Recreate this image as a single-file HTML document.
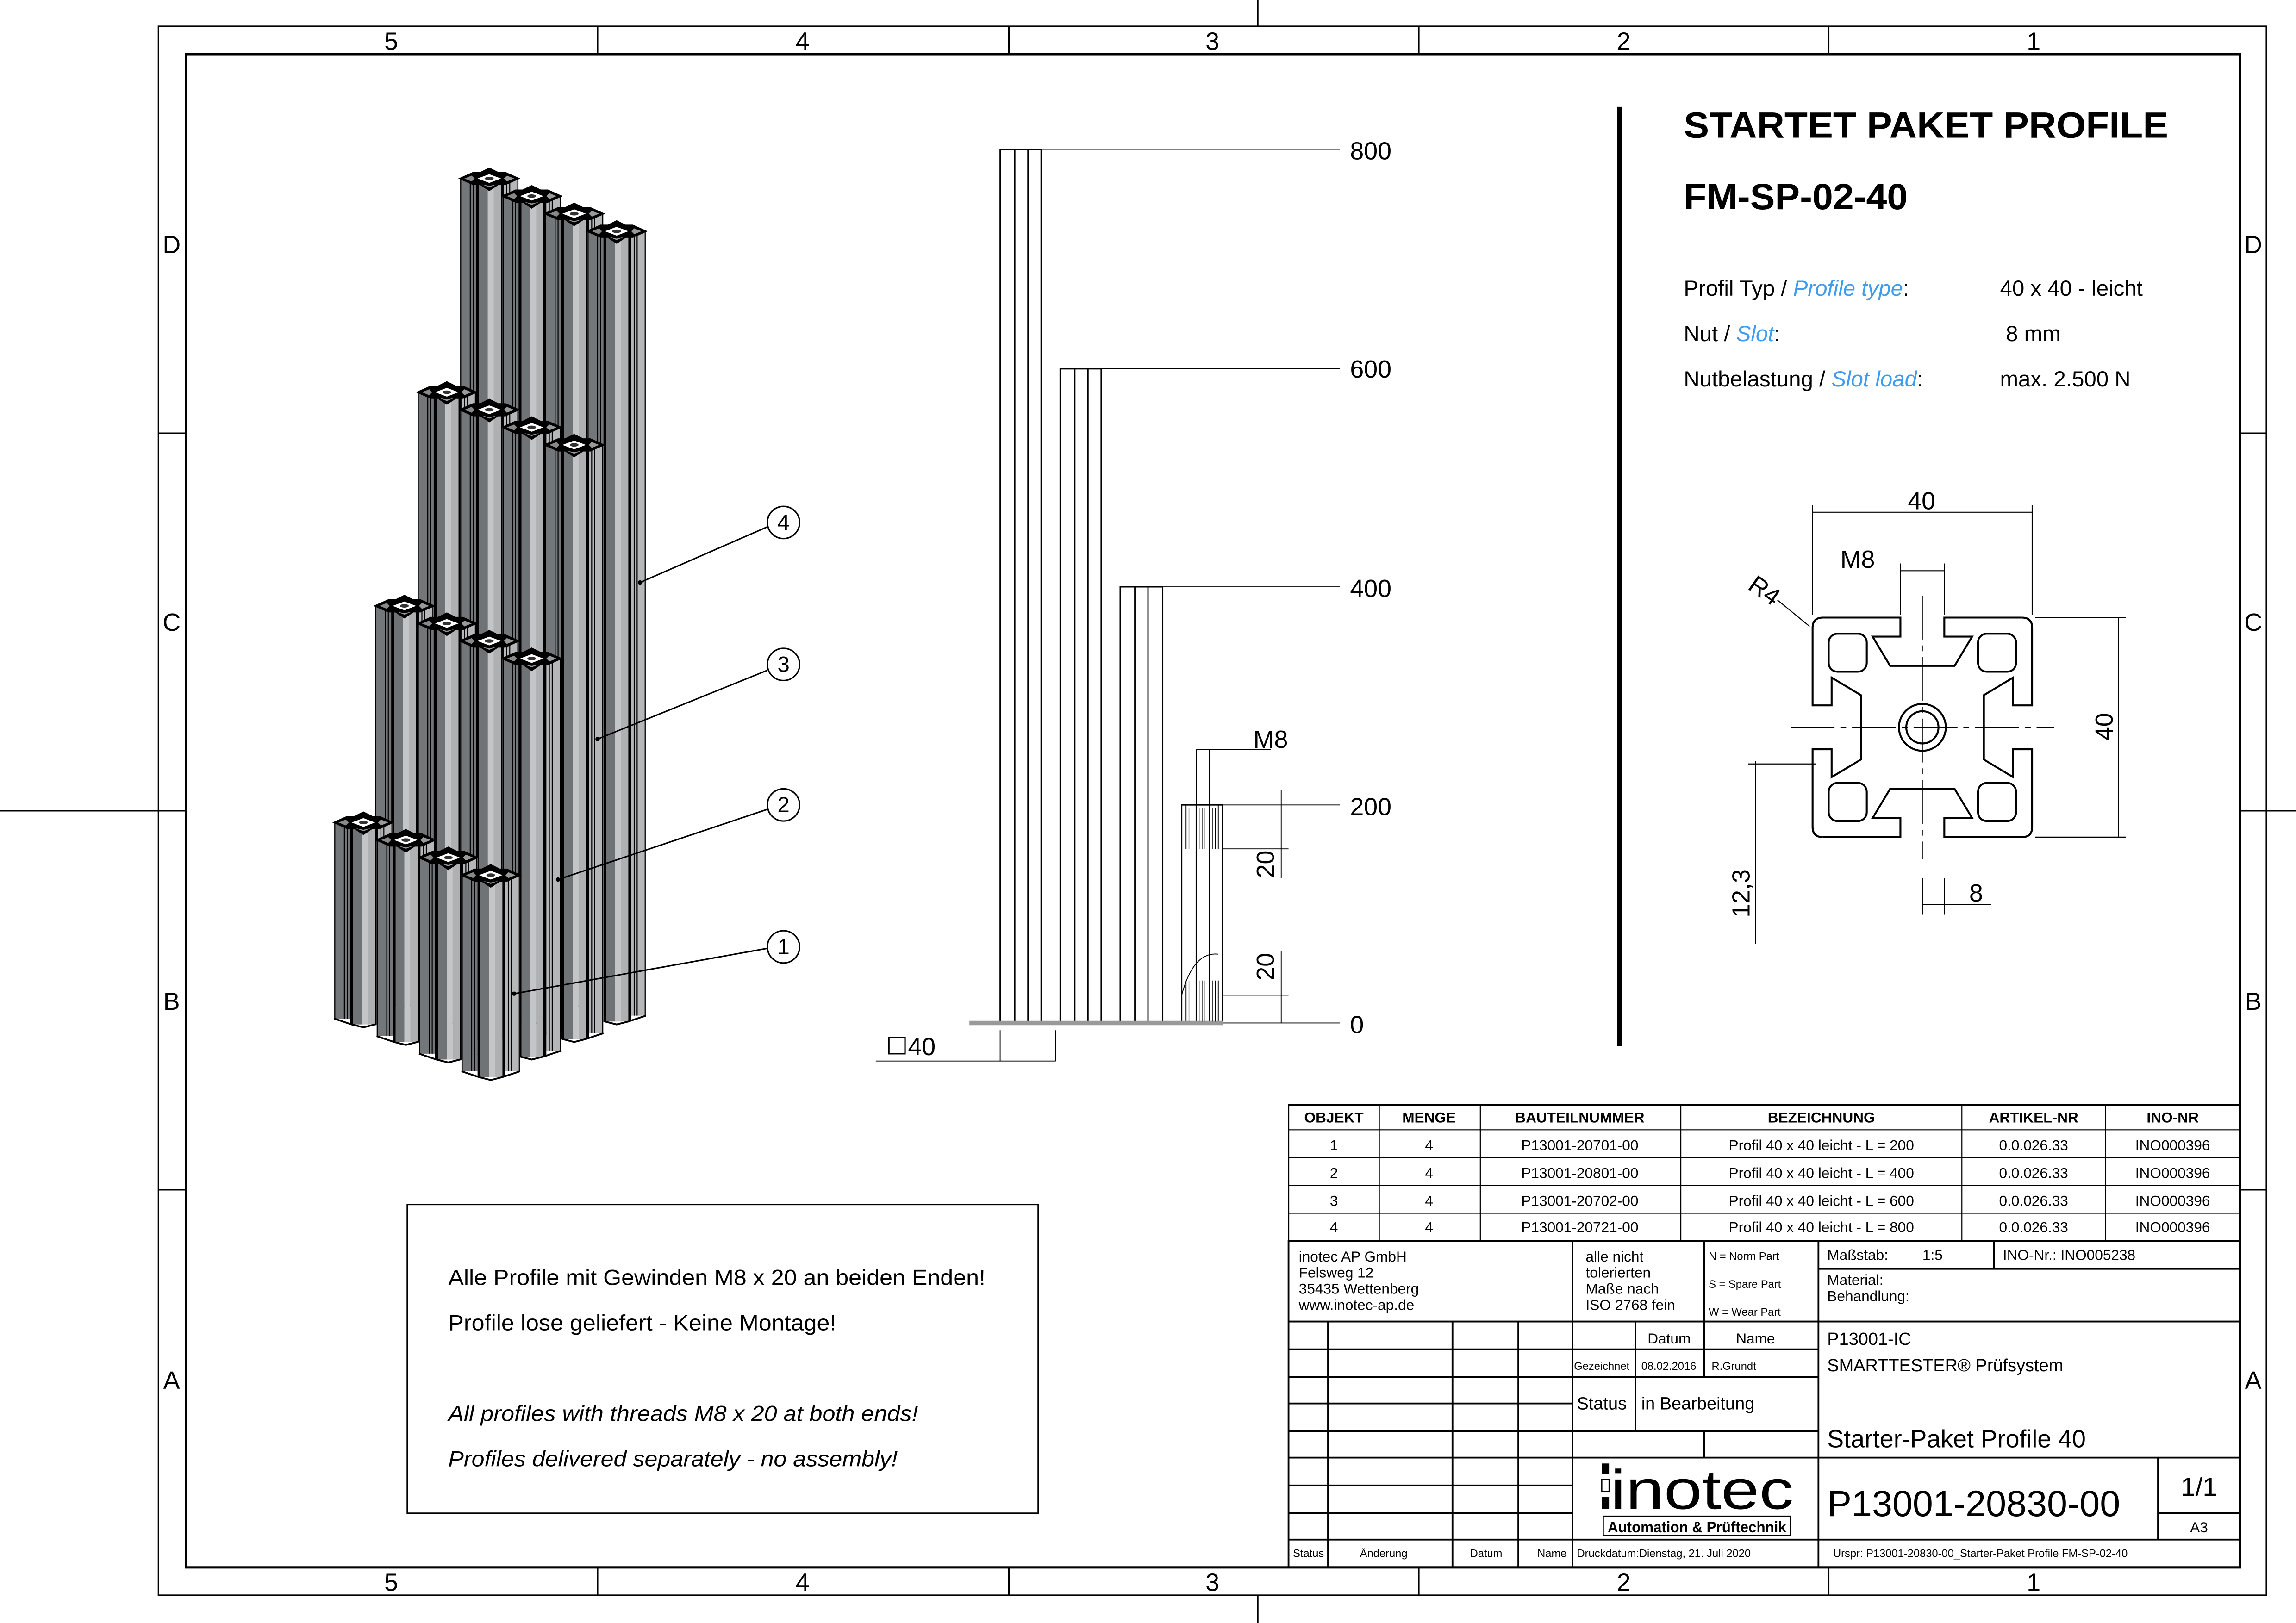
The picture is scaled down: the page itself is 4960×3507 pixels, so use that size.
<!DOCTYPE html>
<html><head><meta charset="utf-8"><style>
html,body{margin:0;padding:0;background:#fff}
svg{display:block}
text{font-family:"Liberation Sans",sans-serif;fill:#000}
</style></head><body>
<svg width="4960" height="3507" viewBox="0 0 1568 1109" xmlns="http://www.w3.org/2000/svg">
<defs>
<g id="top">
<polygon points="0,6 9,2 14,2 20,-1 26,2 31,2 40,6 31,10 26,10 20,14 14,10 9,10" fill="#000" stroke="#000" stroke-width="1"/>
<polygon points="12,6 20,3 28,6 20,9" fill="#fff"/>
<ellipse cx="20" cy="6" rx="3" ry="1.2" fill="#333"/>
<polygon points="3,6 8,4 10,6 8,8" fill="#888"/><polygon points="30,6 32,4 37,6 32,8" fill="#999"/>
<polygon points="15,10 20,12 25,10 20,11" fill="#999"/>
</g>
<symbol id="c1" overflow="visible">
<rect x="0" y="6" width="11" height="134" fill="#74777a"/><rect x="30" y="6" width="10" height="134" fill="#b5b7b9"/>
<rect x="13" y="10" width="6" height="134" fill="#707376"/><rect x="19" y="10" width="4" height="134" fill="#c3c5c7"/><rect x="23" y="10" width="5" height="134" fill="#aeb0b2"/>
<path d="M12,8V144M29,8V144" stroke="#000" stroke-width="2"/><path d="M0.5,6V140M39.5,6V140M7,6V140M9,6V140M32,6V140M34,6V140" stroke="#000" stroke-width="0.7"/>
<path d="M0,140L12,144L20,146L28,144L40,140" fill="none" stroke="#000" stroke-width="1.2"/><use href="#top"/></symbol>
<symbol id="c2" overflow="visible">
<rect x="0" y="6" width="11" height="268" fill="#74777a"/><rect x="30" y="6" width="10" height="268" fill="#b5b7b9"/>
<rect x="13" y="10" width="6" height="268" fill="#707376"/><rect x="19" y="10" width="4" height="268" fill="#c3c5c7"/><rect x="23" y="10" width="5" height="268" fill="#aeb0b2"/>
<path d="M12,8V278M29,8V278" stroke="#000" stroke-width="2"/><path d="M0.5,6V274M39.5,6V274M7,6V274M9,6V274M32,6V274M34,6V274" stroke="#000" stroke-width="0.7"/>
<path d="M0,274L12,278L20,280L28,278L40,274" fill="none" stroke="#000" stroke-width="1.2"/><use href="#top"/></symbol>
<symbol id="c3" overflow="visible">
<rect x="0" y="6" width="11" height="402" fill="#74777a"/><rect x="30" y="6" width="10" height="402" fill="#b5b7b9"/>
<rect x="13" y="10" width="6" height="402" fill="#707376"/><rect x="19" y="10" width="4" height="402" fill="#c3c5c7"/><rect x="23" y="10" width="5" height="402" fill="#aeb0b2"/>
<path d="M12,8V412M29,8V412" stroke="#000" stroke-width="2"/><path d="M0.5,6V408M39.5,6V408M7,6V408M9,6V408M32,6V408M34,6V408" stroke="#000" stroke-width="0.7"/>
<path d="M0,408L12,412L20,414L28,412L40,408" fill="none" stroke="#000" stroke-width="1.2"/><use href="#top"/></symbol>
<symbol id="c4" overflow="visible">
<rect x="0" y="6" width="11" height="536" fill="#74777a"/><rect x="30" y="6" width="10" height="536" fill="#b5b7b9"/>
<rect x="13" y="10" width="6" height="536" fill="#707376"/><rect x="19" y="10" width="4" height="536" fill="#c3c5c7"/><rect x="23" y="10" width="5" height="536" fill="#aeb0b2"/>
<path d="M12,8V546M29,8V546" stroke="#000" stroke-width="2"/><path d="M0.5,6V542M39.5,6V542M7,6V542M9,6V542M32,6V542M34,6V542" stroke="#000" stroke-width="0.7"/>
<path d="M0,542L12,546L20,548L28,546L40,542" fill="none" stroke="#000" stroke-width="1.2"/><use href="#top"/></symbol>
<path id="side" d="M-75,-68 Q-75,-75 -68,-75 L-15,-75 L-15,-62 L-34,-62 L-22,-42 L22,-42 L34,-62 L15,-62 L15,-75 L68,-75" fill="none" stroke="#000" stroke-width="1.3"/>
</defs>

<!-- frame -->
<g fill="none" stroke="#000" stroke-width="1">
<rect x="108" y="18" width="1440" height="1072"/>
<rect x="127" y="37" width="1403" height="1034" stroke-width="1.6"/>
<path d="M408,18V37M689,18V37M969,18V37M1249,18V37M408,1071V1090M689,1071V1090M969,1071V1090M1249,1071V1090M108,296H127M108,554H127M108,813H127M1530,296H1548M1530,554H1548M1530,813H1548M859,0V18M859,1090V1109M0,554H108M1548,554H1568"/>
</g>
<g font-size="17" text-anchor="middle">
<text x="267" y="34">5</text><text x="548" y="34">4</text><text x="828" y="34">3</text><text x="1109" y="34">2</text><text x="1389" y="34">1</text>
<text x="267" y="1087">5</text><text x="548" y="1087">4</text><text x="828" y="1087">3</text><text x="1109" y="1087">2</text><text x="1389" y="1087">1</text>
<text x="117" y="173">D</text><text x="117" y="431">C</text><text x="117" y="690">B</text><text x="117" y="949">A</text>
<text x="1539" y="173">D</text><text x="1539" y="431">C</text><text x="1539" y="690">B</text><text x="1539" y="949">A</text>
</g>

<!-- iso columns -->
<use href="#c4" x="314" y="116"/><use href="#c4" x="343" y="128"/><use href="#c4" x="372" y="140"/><use href="#c4" x="401" y="152"/>
<use href="#c3" x="285" y="262"/><use href="#c3" x="314" y="274"/><use href="#c3" x="343" y="286"/><use href="#c3" x="372" y="298"/>
<use href="#c2" x="256" y="408"/><use href="#c2" x="285" y="420"/><use href="#c2" x="314" y="432"/><use href="#c2" x="343" y="444"/>
<use href="#c1" x="228" y="556"/><use href="#c1" x="257" y="568"/><use href="#c1" x="286" y="580"/><use href="#c1" x="315" y="592"/>

<!-- balloons -->
<g fill="#fff" stroke="#000" stroke-width="1">
<line x1="437" y1="398" x2="524" y2="360"/><line x1="408" y1="505" x2="524" y2="458"/><line x1="381" y1="601" x2="524" y2="553"/><line x1="351" y1="679" x2="524" y2="648"/>
<circle cx="535" cy="357" r="11"/><circle cx="535" cy="454" r="11"/><circle cx="535" cy="550" r="11"/><circle cx="535" cy="647" r="11"/>
</g>
<g fill="#000"><circle cx="437" cy="398" r="1.5"/><circle cx="408" cy="505" r="1.5"/><circle cx="381" cy="601" r="1.5"/><circle cx="351" cy="679" r="1.5"/></g>
<g font-size="15" text-anchor="middle"><text x="535" y="362">4</text><text x="535" y="459">3</text><text x="535" y="555">2</text><text x="535" y="652">1</text></g>

<!-- side view -->
<g fill="none" stroke="#000" stroke-width="0.9">
<rect x="683" y="102" width="28" height="597"/><path d="M693,102V699M702,102V699"/>
<rect x="724" y="252" width="28" height="447"/><path d="M734,252V699M743,252V699"/>
<rect x="765" y="401" width="29" height="298"/><path d="M775,401V699M784,401V699"/>
<rect x="807" y="550" width="28" height="149"/><path d="M817,550V699M826,550V699"/>
<path d="M711,102H915M752,252H915M794,401H915M835,550H915M835,699H915" stroke-width="0.6"/>
<path d="M810,550V580M832,550V580M810,670V699M832,670V699M807,680Q815,650 832,652" stroke-width="0.6"/>
<path d="M817,512V560M826,512V560M817,512H868M875,540V580M875,580V600M875,650V699M835,580H880M835,680H880" stroke-width="0.6"/>
<path d="M683,704V725M721,704V725M598,725H721" stroke-width="0.6"/>
</g>
<line x1="662" y1="699" x2="835" y2="699" stroke="#999" stroke-width="3"/>
<g stroke="#000" stroke-width="0.4">
<path d="M812,552V580M814,552V580M819,552V580M821,552V580M823,552V580M828,552V580M830,552V580M812,670V698M814,670V698M819,670V698M821,670V698M823,670V698M828,670V698M830,670V698"/>
</g>
<g font-size="17"><text x="922" y="109">800</text><text x="922" y="258">600</text><text x="922" y="408">400</text><text x="922" y="557">200</text><text x="922" y="706">0</text>
<text x="856" y="511">M8</text><text x="620" y="721">40</text></g>
<rect x="607" y="709" width="11" height="11" fill="none" stroke="#000" stroke-width="1"/>
<text x="870" y="600" font-size="17" transform="rotate(-90 870 600)" text-anchor="start">20</text>
<text x="870" y="670" font-size="17" transform="rotate(-90 870 670)" text-anchor="start">20</text>

<line x1="1106" y1="73" x2="1106" y2="715" stroke="#000" stroke-width="3"/>

<!-- title text -->
<text x="1150" y="94" font-size="25" font-weight="bold" textLength="331" lengthAdjust="spacingAndGlyphs">STARTET PAKET PROFILE</text>
<text x="1150" y="143" font-size="25" font-weight="bold" textLength="153" lengthAdjust="spacingAndGlyphs">FM-SP-02-40</text>
<g font-size="15">
<text x="1150" y="202">Profil Typ / <tspan fill="#3d9bf0" font-style="italic">Profile type</tspan>:</text>
<text x="1150" y="233">Nut / <tspan fill="#3d9bf0" font-style="italic">Slot</tspan>:</text>
<text x="1150" y="264">Nutbelastung / <tspan fill="#3d9bf0" font-style="italic">Slot load</tspan>:</text>
<text x="1366" y="202">40 x 40 - leicht</text><text x="1370" y="233">8 mm</text><text x="1366" y="264">max. 2.500 N</text>
</g>

<!-- cross section -->
<g transform="translate(1313,497)">
<use href="#side"/><use href="#side" transform="rotate(90)"/><use href="#side" transform="rotate(180)"/><use href="#side" transform="rotate(270)"/>
<g fill="none" stroke="#000" stroke-width="1.3">
<rect x="38" y="38" width="26" height="26" rx="6"/><rect x="-64" y="38" width="26" height="26" rx="6"/><rect x="38" y="-64" width="26" height="26" rx="6"/><rect x="-64" y="-64" width="26" height="26" rx="6"/>
<circle r="16"/><circle r="11"/>
</g>
<path d="M-90,0H90M0,-90V90" stroke="#000" stroke-width="0.6" stroke-dasharray="30,4,4,4"/>
</g>
<g fill="none" stroke="#000" stroke-width="0.7">
<path d="M1238,345V420M1388,345V420M1238,350H1388M1298,385V420M1328,385V420M1298,390H1328M1390,422H1452M1390,572H1452M1447,422V572M1199,520V645M1194,522H1240M1313,600V625M1328,600V625M1313,618H1360M1214,410L1236,428"/>
</g>
<g font-size="17"><text x="1303" y="348">40</text><text x="1257" y="388">M8</text><text x="1345" y="616">8</text>
<text x="1193" y="402" transform="rotate(35 1193 402)">R4</text>
<text x="1443" y="506" transform="rotate(-90 1443 506)">40</text>
<text x="1195" y="627" transform="rotate(-90 1195 627)">12,3</text></g>

<!-- note box -->
<rect x="278" y="823" width="431" height="211" fill="none" stroke="#000" stroke-width="1"/>
<g font-size="15"><text x="306" y="878" textLength="367" lengthAdjust="spacingAndGlyphs">Alle Profile mit Gewinden M8 x 20 an beiden Enden!</text><text x="306" y="909" textLength="265" lengthAdjust="spacingAndGlyphs">Profile lose geliefert - Keine Montage!</text>
<text x="306" y="971" fill="#3d9bf0" font-style="italic" textLength="321" lengthAdjust="spacingAndGlyphs">All profiles with threads M8 x 20 at both ends!</text><text x="306" y="1002" fill="#3d9bf0" font-style="italic" textLength="307" lengthAdjust="spacingAndGlyphs">Profiles delivered separately - no assembly!</text></g>

<!-- parts table -->
<g fill="none" stroke="#000" stroke-width="1">
<rect x="880" y="755" width="650" height="93"/>
<path d="M880,772H1530M880,791H1530M880,810H1530M880,829H1530M942,755V848M1011,755V848M1148,755V848M1340,755V848M1438,755V848" stroke-width="0.7"/>
</g>
<g font-size="10" text-anchor="middle">
<g font-weight="bold"><text x="911" y="767">OBJEKT</text><text x="976" y="767">MENGE</text><text x="1079" y="767">BAUTEILNUMMER</text><text x="1244" y="767">BEZEICHNUNG</text><text x="1389" y="767">ARTIKEL-NR</text><text x="1484" y="767">INO-NR</text></g>
<text x="911" y="786">1</text><text x="976" y="786">4</text><text x="1079" y="786">P13001-20701-00</text><text x="1244" y="786">Profil 40 x 40 leicht - L = 200</text><text x="1389" y="786">0.0.026.33</text><text x="1484" y="786">INO000396</text>
<text x="911" y="805">2</text><text x="976" y="805">4</text><text x="1079" y="805">P13001-20801-00</text><text x="1244" y="805">Profil 40 x 40 leicht - L = 400</text><text x="1389" y="805">0.0.026.33</text><text x="1484" y="805">INO000396</text>
<text x="911" y="824">3</text><text x="976" y="824">4</text><text x="1079" y="824">P13001-20702-00</text><text x="1244" y="824">Profil 40 x 40 leicht - L = 600</text><text x="1389" y="824">0.0.026.33</text><text x="1484" y="824">INO000396</text>
<text x="911" y="842">4</text><text x="976" y="842">4</text><text x="1079" y="842">P13001-20721-00</text><text x="1244" y="842">Profil 40 x 40 leicht - L = 800</text><text x="1389" y="842">0.0.026.33</text><text x="1484" y="842">INO000396</text>
</g>

<!-- title block -->
<g fill="none" stroke="#000" stroke-width="1.2">
<rect x="880" y="848" width="650" height="223"/>
<path d="M1242,867H1530M880,903H1530M880,922H1242M880,941H1242M880,959H1074M880,978H1242M880,996H1530M880,1015H1074M880,1034H1074M1474,1034H1530M880,1052H1530
M907,903V1071M992,903V1071M1037,903V1071M1074,848V1071M1117,903V978M1164,848V941M1164,978V996M1242,848V1071M1362,848V867M1474,996V1052"/>
</g>
<g font-size="10">
<text x="887" y="862">inotec AP GmbH</text><text x="887" y="873">Felsweg 12</text><text x="887" y="884">35435 Wettenberg</text><text x="887" y="895">www.inotec-ap.de</text>
<text x="1083" y="862">alle nicht</text><text x="1083" y="873">tolerierten</text><text x="1083" y="884">Maße nach</text><text x="1083" y="895">ISO 2768 fein</text>
<text x="1248" y="861">Maßstab:</text><text x="1313" y="861">1:5</text><text x="1368" y="861">INO-Nr.:  INO005238</text>
<text x="1248" y="878">Material:</text><text x="1248" y="889">Behandlung:</text>
<text x="1140" y="918" text-anchor="middle">Datum</text><text x="1199" y="918" text-anchor="middle">Name</text>
<text x="1248" y="919" font-size="12">P13001-IC</text><text x="1248" y="937" font-size="12">SMARTTESTER® Prüfsystem</text>
<text x="1077" y="963" font-size="12">Status</text><text x="1121" y="963" font-size="12">in Bearbeitung</text>
<text x="1248" y="989" font-size="17">Starter-Paket Profile 40</text>
<text x="1248" y="1036" font-size="25">P13001-20830-00</text>
<text x="1502" y="1022" font-size="18" text-anchor="middle">1/1</text><text x="1502" y="1047" text-anchor="middle">A3</text>
</g>
<g font-size="7.5">
<text x="1167" y="861">N = Norm Part</text><text x="1167" y="880">S = Spare Part</text><text x="1167" y="899">W = Wear Part</text>
<text x="1075" y="936">Gezeichnet</text><text x="1121" y="936">08.02.2016</text><text x="1169" y="936">R.Grundt</text>
<text x="883" y="1064">Status</text><text x="945" y="1064" text-anchor="middle">Änderung</text><text x="1015" y="1064" text-anchor="middle">Datum</text><text x="1060" y="1064" text-anchor="middle">Name</text>
<text x="1077" y="1064">Druckdatum:Dienstag, 21. Juli 2020</text><text x="1252" y="1064">Urspr: P13001-20830-00_Starter-Paket Profile FM-SP-02-40</text>
</g>
<!-- logo -->
<rect x="1094" y="1000" width="5" height="7" fill="#000"/><rect x="1094" y="1011" width="5" height="8" fill="none" stroke="#000" stroke-width="0.8"/><rect x="1094" y="1023" width="5" height="8" fill="#000"/>
<text x="1100" y="1031" font-size="38" textLength="125" lengthAdjust="spacingAndGlyphs">inotec</text>
<rect x="1095" y="1036" width="128" height="13" fill="none" stroke="#000" stroke-width="0.8"/>
<text x="1098" y="1047" font-size="10.5" font-weight="bold" textLength="122" lengthAdjust="spacingAndGlyphs">Automation &amp; Prüftechnik</text>
</svg>
</body></html>
